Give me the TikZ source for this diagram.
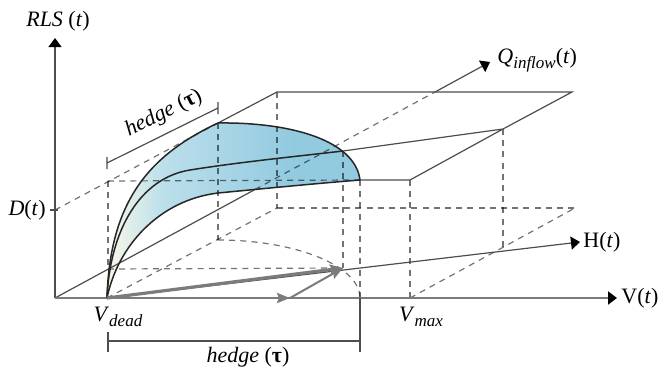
\documentclass[tikz,border=0pt]{standalone}
\usepackage{fontspec}
\setmainfont{Liberation Serif}
\usetikzlibrary{arrows.meta}
\definecolor{edgegray}{HTML}{4D4D4D}
\definecolor{vecgray}{HTML}{7B7B7B}
\definecolor{cream}{HTML}{FAF8E8}
\definecolor{lightblue}{HTML}{BCDFEB}
\definecolor{surfblue}{HTML}{92CAE0}
\newcommand{\lowsub}[1]{\raisebox{-0.5ex}{\fontsize{8.5}{9}\selectfont\textit{#1}}}
\pgfdeclarehorizontalshading{rlsshade}{100bp}{color(0bp)=(cream); color(25bp)=(cream); color(36bp)=(lightblue); color(62bp)=(surfblue); color(100bp)=(surfblue)}

\begin{document}
\begin{tikzpicture}[x=0.5pt,y=-0.5pt,font=\fontsize{11}{13}\selectfont,
  edge/.style={draw=edgegray,line width=0.6pt},
  axis/.style={edge,-{Triangle[length=4.5pt,width=6.5pt,black]}},
  hid/.style={draw=black,draw opacity=0.55,line width=0.6pt,dash pattern=on 3pt off 2.6pt},
  curve/.style={draw=black!85,line width=0.75pt},
  vec/.style={draw=vecgray,-{Stealth[length=6.5pt,width=5pt,inset=1pt]}}]
\useasboundingbox (0,0) rectangle (660,376);
\coordinate (O) at (55,298); \coordinate (Vd) at (107,298); \coordinate (Vm) at (410,298); \coordinate (Vend) at (617,298);
\coordinate (Rtop) at (55,38); \coordinate (Qend) at (490,62); \coordinate (Hend) at (580,242); \coordinate (Dp) at (55,210);
\coordinate (A) at (218,123); \coordinate (B) at (277,92); \coordinate (C) at (572,92); \coordinate (E) at (503,129);
\coordinate (F) at (343,151); \coordinate (G) at (360,180); \coordinate (K) at (410,180); \coordinate (Gb) at (360,298);
\coordinate (P) at (343,268); \coordinate (M) at (290,298); \coordinate (Q1) at (108,269); \coordinate (L) at (108,181);
\coordinate (R) at (218,240); \coordinate (S) at (277,208); \coordinate (T) at (575,208); \coordinate (U) at (503,247);
\coordinate (Qa) at (255,189.5); \coordinate (Qb) at (435,92);
\coordinate (t1) at (107,163); \coordinate (t2) at (218,108); \coordinate (b1) at (108,341); \coordinate (b2) at (360,341);

\shade[shading=rlsshade] (Vd) .. controls (110,200) and (150,155) .. (A) .. controls (290,122) and (355,140) .. (G) .. controls (310,184) and (260,189) .. (218,193) .. controls (160,200) and (118,245) .. (Vd);
\foreach \a/\b in {Dp/A,L/G,L/Q1,Q1/P,Vd/S,S/T,Vm/T,A/R,B/S,F/P,G/Gb,K/Vm,E/U,Qa/Qb}{\draw[hid] (\a)--(\b);}
\draw[hid] (R) .. controls (296,240) and (360,266) .. (Gb);
\draw[edge] (A)--(B)--(C)--(E)--(F) (E)--(K)--(G) (O)--(Qa);
\draw[axis] (Qb)--(Qend);
\draw[axis] (O)--(Rtop);
\draw[axis] (Vd)--(Hend);
\draw[axis,draw=vecgray,line width=1.1pt] (O)--(Vend);
\draw[curve] (Vd) .. controls (110,200) and (150,155) .. (A) .. controls (290,122) and (355,140) .. (G);
\draw[curve] (Vd) .. controls (110,230) and (140,178) .. (190,170) .. controls (240,162) and (300,156) .. (F);
\draw[curve] (Vd) .. controls (118,245) and (160,200) .. (218,193) .. controls (260,189) and (310,184) .. (G);
\draw[vec,line width=1.3pt] (Vd)--(M);
\draw[vec,line width=1pt] (M)--(P);
\draw[vec,line width=1.6pt] (Vd)--(P);
\draw[edge] (t1)--(t2) (t1)++(0,-6)--++(0,12) (t2)++(0,-6)--++(0,12);
\draw[edge] (b1)--(b2) (b1)++(0,-9)--++(0,20) (Gb)--(360,352);
\draw[edge] (50,210)--(58,210);

\node (rlslab) at (58,21) {\textit{RLS} (\textit{t})};
\node[anchor=west,inner sep=0pt] (qlab) at (497,60) {\textit{Q}\lowsub{inflow}(\textit{t})};
\node[anchor=west,inner sep=1.5pt] (hlab) at (Hend) {H(\textit{t})};
\node[anchor=west,inner sep=2pt] (vlab) at (Vend) {V(\textit{t})};
\node[anchor=east,inner sep=1pt] (dlab) at (48,210) {\textit{D}(\textit{t})};
\node (vdlab) at (118,317) {\textit{V}\lowsub{dead}};
\node (vmlab) at (421,317) {\textit{V}\lowsub{max}};
\node (hbot) at (248,357) {\textit{hedge} (\textbf{τ})};
\node[rotate=26.4,anchor=south,inner sep=4pt] (htop) at (172,130) {\textit{hedge} (\textbf{τ})};
\end{tikzpicture}
\end{document}
